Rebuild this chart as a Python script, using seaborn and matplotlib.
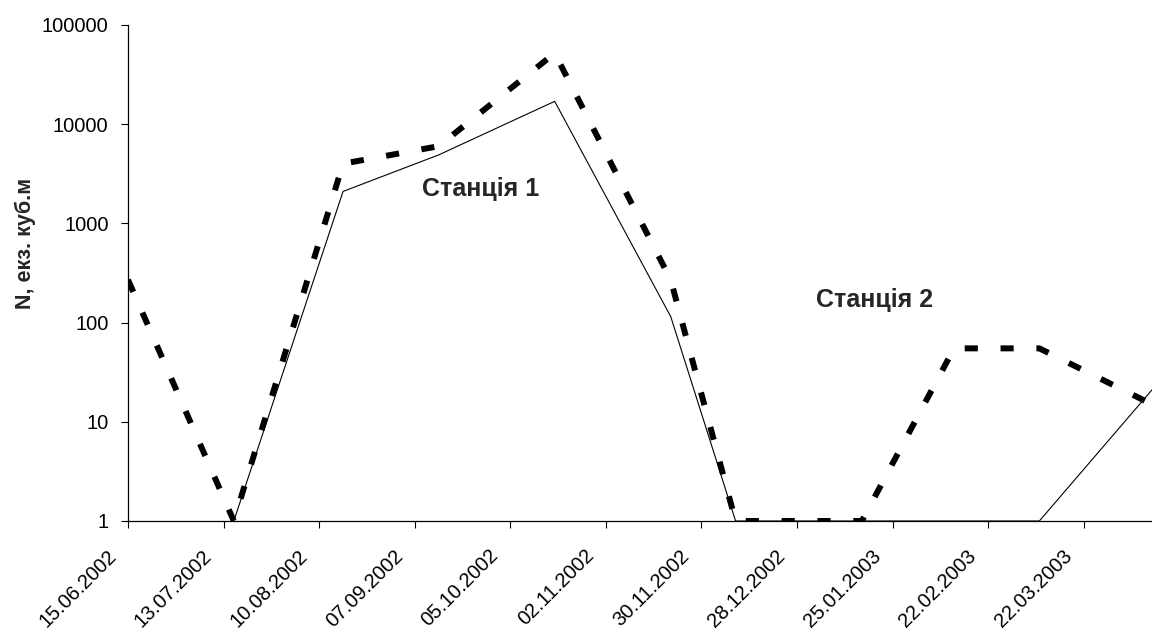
import matplotlib
matplotlib.use("Agg")
import matplotlib.pyplot as plt
import matplotlib.transforms as mtransforms
import numpy as np
import pandas as pd
import seaborn as sns

# Sampling dates
dates = ["2002-06-15", "2002-07-16", "2002-08-17", "2002-09-14", "2002-10-18",
         "2002-11-21", "2002-12-10", "2003-01-16", "2003-02-12", "2003-03-09",
         "2003-04-11"]

# Abundance, individuals per cubic metre
station1 = [np.nan, 1, 2100, 4900, 17000, 115, 1, 1, 1, 1, 21]
station2 = [270, 1, 4000, 6000, 52000, 270, 1, 1, 55, 55, 15]

# Axis labels and ticks
y_label = "N, екз. куб.м"
y_ticks = [1, 10, 100, 1000, 10000, 100000]
y_tick_labels = ["1", "10", "100", "1000", "10000", "100000"]
x_start = "2002-06-15"
x_tick_count = 11
station_labels = ["Станція 1", "Станція 2"]

sns.set_style("ticks")
plt.rcParams["font.family"] = ["Liberation Sans", "DejaVu Sans"]

df = pd.DataFrame({
    "date": pd.to_datetime(dates),
    "s1": station1,
    "s2": station2,
})

fig = plt.figure(figsize=(11.52, 6.32), dpi=100)
ax = fig.add_axes([128 / 1152, 1 - 521 / 632, 1 - 128 / 1152, (521 - 25) / 632])

sns.lineplot(data=df.dropna(subset=["s1"]), x="date", y="s1", ax=ax,
             color="black", linewidth=0.8)
line2 = sns.lineplot(data=df, x="date", y="s2", ax=ax,
                     color="black", linewidth=4.3).lines[-1]
line2.set_dashes((2.2, 3.8))
line2.set_dash_capstyle("butt")

ax.set_yscale("log")
ax.set_ylim(1, 100000)
ax.set_yticks(y_ticks)
ax.set_yticklabels(y_tick_labels)
ax.yaxis.set_minor_locator(matplotlib.ticker.NullLocator())

xticks = pd.date_range(x_start, periods=x_tick_count, freq="28D")
ax.set_xticks(xticks)
ax.set_xticklabels([d.strftime("%d.%m.%Y") for d in xticks],
                   rotation=45, ha="right")
ax.set_xlim(df["date"].iloc[0], df["date"].iloc[-1])

ax.tick_params(axis="both", direction="out", length=5, width=0.8,
               labelsize=14.5, colors="black")
ax.tick_params(axis="x", pad=13)
ax.tick_params(axis="y", pad=9)

# shift rotated date labels slightly left of their ticks
shift = mtransforms.ScaledTranslation(-8 / 100, 0, fig.dpi_scale_trans)
for lbl in ax.get_xticklabels():
    lbl.set_transform(lbl.get_transform() + shift)

ax.set_xlabel("")
ax.set_ylabel(y_label, fontsize=15.5, fontweight="bold")
ax.yaxis.set_label_coords(-92 / 1024, 0.56)

for side in ["top", "right"]:
    ax.spines[side].set_visible(False)
for side in ["left", "bottom"]:
    ax.spines[side].set_linewidth(0.9)
    ax.spines[side].set_color("black")

ax.text(0.344, 0.67, station_labels[0], transform=ax.transAxes,
        ha="center", va="center", fontsize=18, fontweight="bold")
ax.text(0.7295, 0.4456, station_labels[1], transform=ax.transAxes,
        ha="center", va="center", fontsize=18, fontweight="bold")

fig.savefig("out.png", dpi=100)
